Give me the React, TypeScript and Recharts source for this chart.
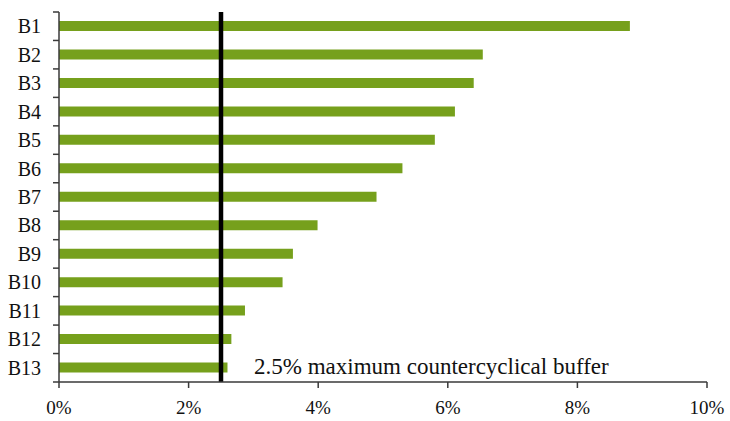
import { BarChart, Bar, XAxis, YAxis, ReferenceLine } from "recharts";

const banks = ["B1", "B2", "B3", "B4", "B5", "B6", "B7", "B8", "B9", "B10", "B11", "B12", "B13"];
const buffers = [8.81, 6.54, 6.4, 6.11, 5.8, 5.3, 4.9, 3.99, 3.61, 3.45, 2.87, 2.66, 2.6];
const xTicks = [0, 2, 4, 6, 8, 10];
const MAX_BUFFER = 2.5;
const bufferLabel = "2.5% maximum countercyclical buffer";

const data = banks.map((name, i) => ({ name, value: buffers[i] }));

const FONT = "'Liberation Serif', 'Times New Roman', serif";
const AXIS = "#3a3a3a";

// category label plus short marks on the band edges instead of the centres
function BankTick(props: any) {
  const { x, y, payload, index } = props;
  const half = payload.offset ?? 14;
  return (
    <g>
      <text x={x - 18} y={y} textAnchor="end" dominantBaseline="central" fontFamily={FONT} fontSize={20} fill="#111">
        {payload.value}
      </text>
      <line x1={x - 6} x2={x} y1={y + half} y2={y + half} stroke={AXIS} strokeWidth={1.5} />
      {index === 0 && <line x1={x - 6} x2={x} y1={y - half} y2={y - half} stroke={AXIS} strokeWidth={1.5} />}
    </g>
  );
}

function BufferLabel(props: any) {
  const { viewBox } = props;
  return (
    <text x={viewBox.x + 33} y={viewBox.y + viewBox.height - 8} fontFamily={FONT} fontSize={23} fill="#111">
      {bufferLabel}
    </text>
  );
}

export default function App() {
  return (
    <div style={{ position: "absolute", left: 0, top: 0, background: "#fff" }}>
      <BarChart
        width={730}
        height={421}
        data={data}
        layout="vertical"
        margin={{ top: 12, right: 23, bottom: 0, left: 0 }}
        barSize={10}
      >
        <XAxis
          type="number"
          domain={[0, 10]}
          ticks={xTicks}
          tickFormatter={(v: number) => `${v}%`}
          height={39}
          tickSize={6}
          tickMargin={13}
          axisLine={{ stroke: AXIS, strokeWidth: 1.5 }}
          tickLine={{ stroke: AXIS, strokeWidth: 1.5 }}
          tick={{ fontFamily: FONT, fontSize: 19, fill: "#111" }}
        />
        <YAxis
          type="category"
          dataKey="name"
          width={59}
          tickLine={false}
          tickSize={0}
          tickMargin={0}
          interval={0}
          axisLine={{ stroke: AXIS, strokeWidth: 1.5 }}
          tick={<BankTick />}
        />
        <Bar dataKey="value" fill="#76A01C" isAnimationActive={false} />
        <ReferenceLine x={MAX_BUFFER} stroke="#000" strokeWidth={4.5} label={<BufferLabel />} />
      </BarChart>
    </div>
  );
}
